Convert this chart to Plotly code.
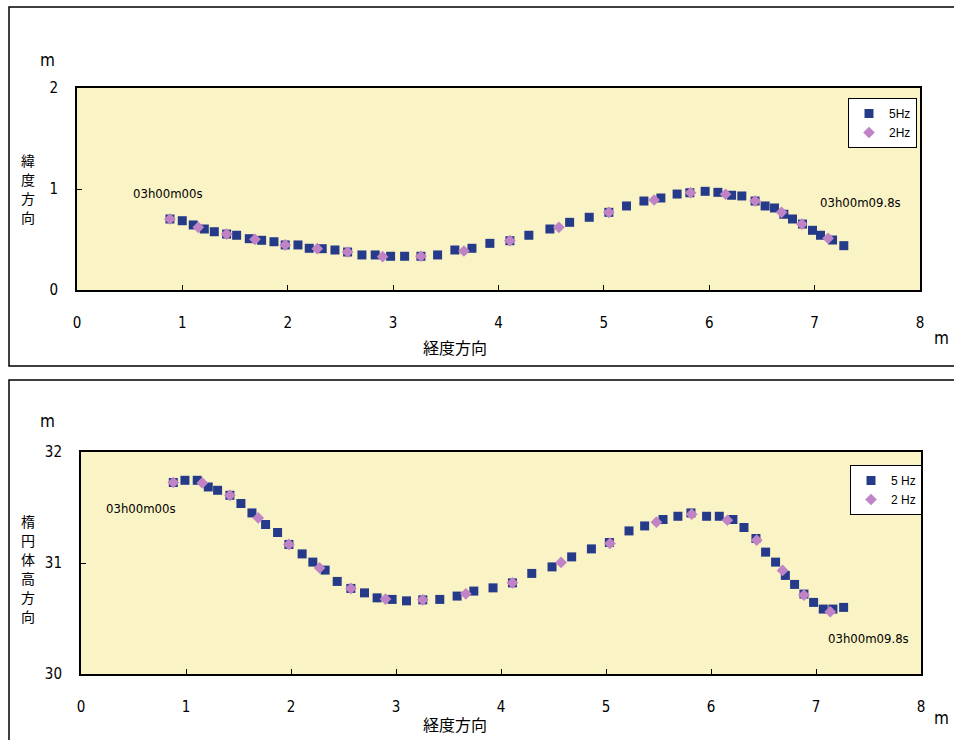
import plotly.graph_objects as go

# ---- data: top chart (緯度方向 vs 経度方向) ----
top_x_5hz = [0.882, 0.999, 1.103, 1.208, 1.303, 1.420, 1.515, 1.635, 1.752, 1.869,
             1.976, 2.097, 2.204, 2.327, 2.448, 2.568, 2.704, 2.830, 2.976, 3.109,
             3.264, 3.422, 3.586, 3.748, 3.918, 4.108, 4.288, 4.488, 4.675, 4.861,
             5.047, 5.215, 5.380, 5.541, 5.695, 5.816, 5.961, 6.082, 6.212, 6.309,
             6.435, 6.530, 6.619, 6.708, 6.790, 6.885, 6.980, 7.056, 7.170, 7.277]
top_y_5hz = [0.703, 0.686, 0.644, 0.604, 0.577, 0.554, 0.542, 0.508, 0.492, 0.478,
             0.446, 0.446, 0.413, 0.409, 0.396, 0.376, 0.347, 0.347, 0.334, 0.334,
             0.334, 0.347, 0.396, 0.413, 0.462, 0.488, 0.542, 0.604, 0.670, 0.720,
             0.769, 0.832, 0.881, 0.911, 0.950, 0.963, 0.977, 0.967, 0.938, 0.931,
             0.881, 0.832, 0.812, 0.750, 0.703, 0.653, 0.591, 0.542, 0.495, 0.439]
top_x_2hz = [0.882, 1.151, 1.420, 1.689, 1.976, 2.280, 2.568, 2.900, 3.264, 3.672,
             4.108, 4.573, 5.047, 5.477, 5.823, 6.155, 6.435, 6.686, 6.879, 7.128]
top_y_2hz = [0.703, 0.621, 0.554, 0.502, 0.446, 0.409, 0.376, 0.330, 0.334, 0.386,
             0.488, 0.621, 0.769, 0.891, 0.963, 0.948, 0.881, 0.769, 0.653, 0.512]

# ---- data: bottom chart (楕円体高方向 vs 経度方向) ----
bot_x_5hz = [0.879, 0.990, 1.107, 1.212, 1.301, 1.418, 1.523, 1.628, 1.758, 1.872,
             1.980, 2.106, 2.208, 2.325, 2.440, 2.570, 2.700, 2.820, 2.963, 3.100,
             3.255, 3.417, 3.582, 3.741, 3.924, 4.109, 4.293, 4.486, 4.673, 4.861,
             5.032, 5.219, 5.368, 5.543, 5.685, 5.809, 5.958, 6.079, 6.209, 6.314,
             6.428, 6.520, 6.615, 6.708, 6.796, 6.885, 6.977, 7.069, 7.161, 7.263]
bot_y_5hz = [31.725, 31.745, 31.745, 31.685, 31.655, 31.610, 31.536, 31.451, 31.347, 31.275,
             31.167, 31.082, 31.008, 30.936, 30.834, 30.771, 30.731, 30.686, 30.672, 30.659,
             30.668, 30.672, 30.702, 30.747, 30.776, 30.821, 30.906, 30.965, 31.055, 31.127,
             31.185, 31.289, 31.334, 31.392, 31.421, 31.451, 31.421, 31.421, 31.392, 31.320,
             31.221, 31.098, 31.008, 30.888, 30.807, 30.720, 30.645, 30.585, 30.585, 30.600]
bot_x_2hz = [0.879, 1.155, 1.418, 1.688, 1.980, 2.272, 2.570, 2.900, 3.255, 3.665,
             4.109, 4.572, 5.038, 5.480, 5.816, 6.156, 6.435, 6.682, 6.885, 7.136]
bot_y_2hz = [31.725, 31.721, 31.610, 31.406, 31.167, 30.956, 30.771, 30.675, 30.668, 30.722,
             30.821, 31.005, 31.176, 31.368, 31.440, 31.385, 31.206, 30.933, 30.711, 30.561]

x_ticks = [0, 1, 2, 3, 4, 5, 6, 7, 8]
top_y_ticks = [0, 1, 2]
bot_y_ticks = [30, 31, 32]
top_ytitle = "緯度方向"
bot_ytitle = "楕円体高方向"
xtitle = "経度方向"

W, H = 954, 740

def px(x):
    return x / W
def py(y):
    return 1 - y / H

NAVY = "#263A8A"
PINK = "#C084C6"
BG = "#FAF3C5"
NUMFONT = "Liberation Sans Narrow, DejaVu Sans Condensed, Arial, sans-serif"
JPFONT = "Noto Sans CJK JP"

fig = go.Figure()
fig.add_trace(go.Scatter(x=top_x_5hz, y=top_y_5hz, mode="markers", name="5Hz",
                         marker=dict(symbol="square", size=9, color=NAVY),
                         xaxis="x", yaxis="y", legend="legend"))
fig.add_trace(go.Scatter(x=top_x_2hz, y=top_y_2hz, mode="markers", name="2Hz",
                         marker=dict(symbol="diamond", size=9, color=PINK),
                         xaxis="x", yaxis="y", legend="legend"))
fig.add_trace(go.Scatter(x=bot_x_5hz, y=bot_y_5hz, mode="markers", name="5 Hz",
                         marker=dict(symbol="square", size=9, color=NAVY),
                         xaxis="x2", yaxis="y2", legend="legend2"))
fig.add_trace(go.Scatter(x=bot_x_2hz, y=bot_y_2hz, mode="markers", name="2 Hz",
                         marker=dict(symbol="diamond", size=9, color=PINK),
                         xaxis="x2", yaxis="y2", legend="legend2"))

axis_common = dict(showline=True, linecolor="black", linewidth=2, mirror=True,
                   showgrid=False, zeroline=False, ticks="inside", ticklen=5,
                   automargin=False,
                   tickcolor="black", tickfont=dict(family=NUMFONT, size=15, color="black"))

fig.update_layout(
    width=W, height=H,
    margin=dict(l=0, r=0, t=0, b=0, pad=0, autoexpand=False), autosize=False,
    paper_bgcolor="white", plot_bgcolor=BG, showlegend=True,
    xaxis=dict(domain=[px(77), px(920)], range=[0, 8], tickvals=x_ticks,
               anchor="y", ticklabelstandoff=18, **axis_common),
    yaxis=dict(domain=[py(290), py(88)], range=[0, 2], tickvals=top_y_ticks,
               anchor="x", ticklabelstandoff=14, **axis_common),
    xaxis2=dict(domain=[px(81), px(921)], range=[0, 8], tickvals=x_ticks,
                anchor="y2", ticklabelstandoff=18, **axis_common),
    yaxis2=dict(domain=[py(674), py(452)], range=[30, 32], tickvals=bot_y_ticks,
                anchor="x2", ticklabelstandoff=14, **axis_common),
    legend=dict(x=px(848), y=py(98), xanchor="left", yanchor="top",
                bgcolor="white", bordercolor="black", borderwidth=1,
                font=dict(family="Arial", size=12, color="black"),
                itemwidth=30, tracegroupgap=2),
    legend2=dict(x=px(850), y=py(465), xanchor="left", yanchor="top",
                 bgcolor="white", bordercolor="black", borderwidth=1,
                 font=dict(family="Arial", size=12, color="black"),
                 itemwidth=30, tracegroupgap=2),
)

# outer frames (right / bottom edges run off the page as in the reference)
fig.add_shape(type="rect", xref="paper", yref="paper", x0=px(9), x1=1.05,
              y0=py(366), y1=py(7), line=dict(color="black", width=1.5))
fig.add_shape(type="rect", xref="paper", yref="paper", x0=px(9), x1=1.05,
              y0=-0.05, y1=py(380), line=dict(color="black", width=1.5))

def txt(x, y, s, size=13, family=NUMFONT, xanchor="center", **kw):
    fig.add_annotation(xref="paper", yref="paper", x=px(x), y=py(y), text=s,
                       showarrow=False, xanchor=xanchor, yanchor="middle",
                       font=dict(family=family, size=size, color="black"), **kw)

def vtxt(x, ycenter, s, step=19, size=14):
    n = len(s)
    y0 = ycenter - step * (n - 1) / 2
    for i, ch in enumerate(s):
        txt(x, y0 + i * step, ch, size=size, family=JPFONT, height=17, borderpad=0)

txt(47, 60, "m", size=17)
txt(941, 338, "m", size=17)
txt(47, 421, "m", size=17)
txt(941, 718, "m", size=17)
txt(455, 347, xtitle, size=16, family=JPFONT)
txt(455, 724, xtitle, size=16, family=JPFONT)
vtxt(28, 188, top_ytitle)
vtxt(28, 568, bot_ytitle)
txt(168, 193, "03h00m00s", size=13)
txt(860, 203, "03h00m09.8s", size=13)
txt(141, 508, "03h00m00s", size=13)
txt(868, 638, "03h00m09.8s", size=13)

fig.write_html("out.html")
